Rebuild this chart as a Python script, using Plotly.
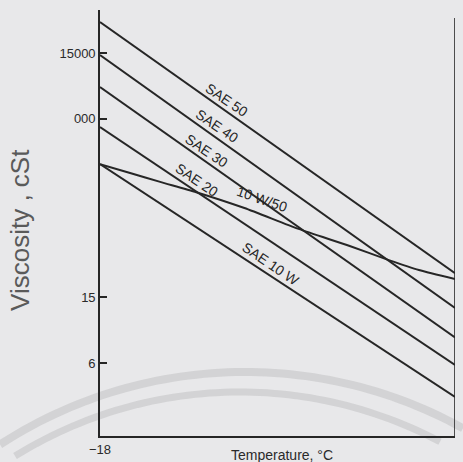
import numpy as np
import plotly.graph_objects as go

# ---------------- data ----------------
temp_ends = [-18, 100]                      # °C
sae50 = [76500, 22.3]                       # cSt
sae40 = [13600, 12.8]
sae30 = [3300, 8.4]
sae20 = [750, 5.85]
sae10w = [241, 3.96]

multi_temps = [-18, -8, 2, 14, 30, 48, 65, 78, 88, 100]
multi_10w50 = [241, 189, 150, 116, 80, 51, 36.4, 28, 23.5, 20.2]

y_tick_values = [6, 15, 1000, 15000]
y_tick_labels = ["6", "15", "000", "15000"]
x_tick_values = [-18, 100]
x_tick_labels = ["\u221218", "100"]

line_names = ["SAE 50", "SAE 40", "SAE 30", "SAE 20", "SAE 10 W"]
line_values = [sae50, sae40, sae30, sae20, sae10w]
label_temps = [24.2, 20.9, 17.6, 14.2, 38.8]
multi_label = "10 W/50"
multi_label_temp = 35.8


# viscosity-chart scale (double log)
def vscale(v):
    v = np.asarray(v, dtype=float)
    return np.log10(np.log10(v + 1.5))


INK = "#262626"
BG = "#e8e8ea"
FONT = "Liberation Sans"

fig = go.Figure()

for name, vals in zip(line_names, line_values):
    fig.add_trace(go.Scatter(x=temp_ends, y=vscale(vals), mode="lines",
                             line=dict(color=INK, width=2), name=name,
                             showlegend=False, hoverinfo="skip"))

fig.add_trace(go.Scatter(x=multi_temps, y=vscale(multi_10w50), mode="lines",
                         line=dict(color=INK, width=2, shape="spline", smoothing=0.6),
                         name=multi_label, showlegend=False, hoverinfo="skip"))

annotations = []
for name, vals, t in zip(line_names, line_values, label_temps):
    yv = np.interp(t, temp_ends, vscale(vals))
    annotations.append(dict(x=t, y=float(yv), xref="x", yref="y", text=name,
                            showarrow=False, textangle=34, yshift=12,
                            font=dict(family=FONT, size=14, color="#252525")))
ym = np.interp(multi_label_temp, multi_temps, vscale(multi_10w50))
annotations.append(dict(x=multi_label_temp, y=float(ym), xref="x", yref="y",
                        text=multi_label, showarrow=False, textangle=19, yshift=16,
                        font=dict(family=FONT, size=14, color="#252525")))

# axis titles
annotations.append(dict(x=0.513, y=-0.021, xref="paper", yref="paper",
                        text="Temperature, \u00b0C", showarrow=False,
                        xanchor="center", yanchor="top",
                        font=dict(family=FONT, size=14, color="#2a2a2a")))
annotations.append(dict(x=-0.225, y=0.484, xref="paper", yref="paper",
                        text="Viscosity , cSt", showarrow=False, textangle=-90,
                        xanchor="center", yanchor="middle",
                        font=dict(family=FONT, size=26, color="#5a5a5a")))

shapes = [dict(type="line", xref="x", yref="paper", x0=100, x1=100, y0=0, y1=0.981,
               line=dict(color=INK, width=1.6))]


# faint scan watermark arcs (decorative)
def arc_path(cx, cy, r, x_from, x_to):
    xs = np.linspace(x_from, x_to, 60)
    ys = cy - np.sqrt(np.maximum(r * r - (xs - cx) ** 2, 0))
    px = (xs - 100) / 355.0
    py = (436 - ys) / 426.0
    return "M " + " L ".join(f"{a:.4f},{b:.4f}" for a, b in zip(px, py))


shapes.append(dict(type="path", xref="paper", yref="paper", layer="below",
                   path=arc_path(245, 822, 450, 0, 463),
                   line=dict(color="rgba(196,196,199,0.6)", width=8)))
shapes.append(dict(type="path", xref="paper", yref="paper", layer="below",
                   path=arc_path(240, 819, 427, 15, 440),
                   line=dict(color="rgba(196,196,199,0.6)", width=7)))

fig.update_layout(
    width=463, height=462,
    margin=dict(l=100, r=8, t=10, b=26),
    paper_bgcolor=BG, plot_bgcolor=BG,
    font=dict(family=FONT, color="#2a2a2a"),
    annotations=annotations, shapes=shapes,
    xaxis=dict(range=[-18, 100], tickvals=x_tick_values, ticktext=x_tick_labels,
               ticks="", showgrid=False, zeroline=False, showline=True,
               linecolor=INK, linewidth=2.2, tickfont=dict(size=13),
               automargin=False, fixedrange=True),
    yaxis=dict(range=[-0.2178, 0.7149], tickvals=list(vscale(y_tick_values)),
               ticktext=y_tick_labels, ticks="inside", ticklen=7, tickwidth=1.5,
               tickcolor=INK, showgrid=False, zeroline=False, showline=True,
               linecolor=INK, linewidth=1.6, tickfont=dict(size=13),
               automargin=False, fixedrange=True),
)

fig.write_html("out.html")
